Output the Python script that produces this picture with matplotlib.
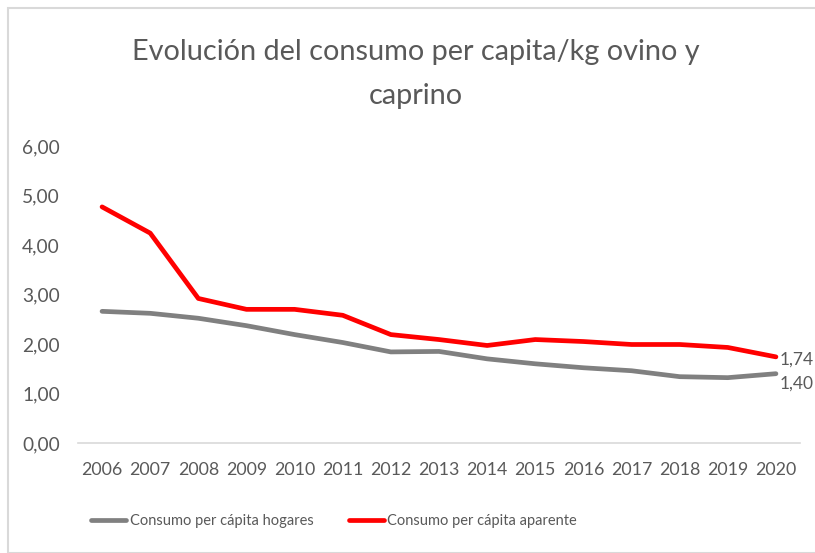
import matplotlib
matplotlib.use("Agg")
import matplotlib.pyplot as plt
from matplotlib.patches import Rectangle
from matplotlib.ticker import FuncFormatter

years = [2006, 2007, 2008, 2009, 2010, 2011, 2012, 2013, 2014, 2015, 2016, 2017, 2018, 2019, 2020]
hogares = [2.66, 2.62, 2.52, 2.37, 2.19, 2.03, 1.84, 1.85, 1.70, 1.60, 1.52, 1.46, 1.34, 1.32, 1.40]
aparente = [4.77, 4.24, 2.92, 2.70, 2.70, 2.58, 2.19, 2.09, 1.97, 2.09, 2.05, 1.99, 1.99, 1.93, 1.74]
title = "Evolución del consumo per capita/kg ovino y\ncaprino"
label_h = "Consumo per cápita hogares"
label_a = "Consumo per cápita aparente"

plt.rcParams['font.family'] = ['Lato', 'DejaVu Sans']
txt = '#595959'
W, H = 815, 553
fig = plt.figure(figsize=(W/100, H/100), dpi=100)
fig.patches.append(Rectangle((8/W, 0), 1.2, 1 - 8/H, transform=fig.transFigure,
                             fill=False, edgecolor='#d9d9d9', linewidth=1.5))

ax = fig.add_axes([78/W, 1 - 443/H, (800 - 78)/W, (443 - 146)/H])
x = list(range(len(years)))
ax.plot(x, hogares, color='#808080', linewidth=3.4, solid_capstyle='round', label=label_h)
ax.plot(x, aparente, color='#ff0000', linewidth=3.4, solid_capstyle='round', label=label_a)
fmt = lambda v: f"{v:.2f}".replace('.', ',')
ax.annotate(fmt(aparente[-1]), (x[-1], aparente[-1]), xytext=(3, -2), textcoords='offset points',
            color=txt, fontsize=12.5, va='center', ha='left', annotation_clip=False)
ax.annotate(fmt(hogares[-1]), (x[-1], hogares[-1]), xytext=(3, -7), textcoords='offset points',
            color=txt, fontsize=12.5, va='center', ha='left', annotation_clip=False)

ax.set_xlim(-0.5, len(years) - 0.5)
ax.set_ylim(0, 6)
ax.set_yticks([0, 1, 2, 3, 4, 5, 6])
ax.yaxis.set_major_formatter(FuncFormatter(lambda v, p: fmt(v)))
ax.set_xticks(x)
ax.set_xticklabels([str(y) for y in years])
for s in ['top', 'right', 'left']:
    ax.spines[s].set_visible(False)
ax.spines['bottom'].set_color('#d9d9d9')
ax.spines['bottom'].set_linewidth(1.2)
ax.tick_params(axis='both', length=0, colors=txt)
ax.tick_params(axis='x', labelsize=12.8, pad=14)
ax.tick_params(axis='y', labelsize=13.8, pad=13)

fig.text(416/W, 1 - 74/H, title, ha='center', va='center', fontsize=20.8, color=txt,
         linespacing=1.85)

fig.legend(loc='center', bbox_to_anchor=(334/W, 1 - 521/H), ncol=2, frameon=False,
           fontsize=10.5, labelcolor=txt, handlelength=2.4, handletextpad=0.25,
           columnspacing=2.4)

fig.savefig('out.png', dpi=100)
